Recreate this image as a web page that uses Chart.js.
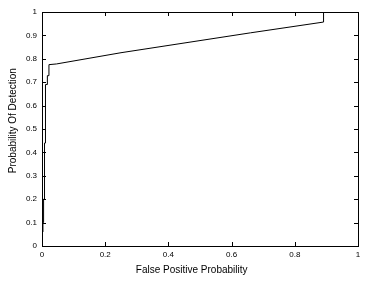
<!DOCTYPE html>
<html>
<head>
<meta charset="utf-8">
<script src="https://cdn.jsdelivr.net/npm/chart.js@4.4.1/dist/chart.umd.min.js"></script>
<style>
  html, body { margin: 0; padding: 0; background: #fff; }
  #wrap { width: 369px; height: 286px; }
</style>
</head>
<body>
<div id="wrap"><canvas id="roc"></canvas></div>
<script>
// ROC curve (staircase corners listed explicitly)
var falsePos = [0.003, 0.003, 0.005, 0.005, 0.008, 0.008, 0.011, 0.011, 0.017, 0.017, 0.022, 0.022, 0.046, 0.25, 0.66, 0.891, 0.891, 1.0];
var detect   = [0.06, 0.1, 0.1, 0.2, 0.2, 0.44, 0.44, 0.69, 0.69, 0.728, 0.728, 0.775, 0.778, 0.826, 0.911, 0.957, 1.0, 1.0];
var xTicks = [0, 0.2, 0.4, 0.6, 0.8, 1];
var yTicks = [0, 0.1, 0.2, 0.3, 0.4, 0.5, 0.6, 0.7, 0.8, 0.9, 1];

var pts = falsePos.map(function (x, i) { return { x: x, y: detect[i] }; });

var font = { family: "'Liberation Sans', 'DejaVu Sans', sans-serif", size: 8 };
var titleFont = { family: font.family, size: 10 };

// matlab style box with inward tick marks on all four sides
var boxTicks = {
    id: 'boxTicks',
    afterDraw: function (chart) {
        var c = chart.ctx, a = chart.chartArea;
        var xs = chart.scales.x, ys = chart.scales.y;
        var len = 4;
        c.save();
        c.strokeStyle = '#000';
        c.lineWidth = 1;
        c.strokeRect(Math.round(a.left) + 0.5, Math.round(a.top) + 0.5,
                     Math.round(a.right - a.left), Math.round(a.bottom - a.top));
        c.beginPath();
        xTicks.forEach(function (v) {
            var px = Math.round(xs.getPixelForValue(v)) + 0.5;
            c.moveTo(px, a.bottom); c.lineTo(px, a.bottom - len);
            c.moveTo(px, a.top); c.lineTo(px, a.top + len);
        });
        yTicks.forEach(function (v) {
            var py = Math.round(ys.getPixelForValue(v)) + 0.5;
            c.moveTo(a.left, py); c.lineTo(a.left + len, py);
            c.moveTo(a.right, py); c.lineTo(a.right - len, py);
        });
        c.stroke();
        c.restore();
    }
};

new Chart(document.getElementById('roc'), {
    type: 'scatter',
    data: {
        datasets: [{
            data: pts,
            showLine: true,
            borderColor: '#000',
            borderWidth: 1,
            pointRadius: 0,
            tension: 0
        }]
    },
    options: {
        responsive: true,
        maintainAspectRatio: false,
        animation: false,
        layout: { padding: { left: 0, right: 11, top: 12, bottom: 0 } },
        plugins: { legend: { display: false }, tooltip: { enabled: false } },
        scales: {
            x: {
                type: 'linear', min: 0, max: 1,
                afterFit: function (s) { s.height = 40; },
                afterBuildTicks: function (s) { s.ticks = xTicks.map(function (v) { return { value: v }; }); },
                grid: { display: false, drawTicks: false },
                border: { display: false },
                ticks: { color: '#000', font: font, padding: 4, maxRotation: 0,
                         callback: function (v) { return String(v); } },
                // trailing spaces nudge the title a little left, as in the original
                title: { display: true, text: 'False Positive Probability      ', color: '#000',
                         font: titleFont, padding: { top: 10, bottom: 10 } }
            },
            y: {
                type: 'linear', min: 0, max: 1,
                afterFit: function (s) { s.width = 42; },
                afterBuildTicks: function (s) { s.ticks = yTicks.map(function (v) { return { value: v }; }); },
                grid: { display: false, drawTicks: false },
                border: { display: false },
                ticks: { color: '#000', font: font, padding: 5,
                         callback: function (v) { return String(v); } },
                title: { display: true, text: '      Probability Of Detection', color: '#000',
                         font: titleFont, padding: { top: 7, bottom: 7 } }
            }
        }
    },
    plugins: [boxTicks]
});
</script>
</body>
</html>
